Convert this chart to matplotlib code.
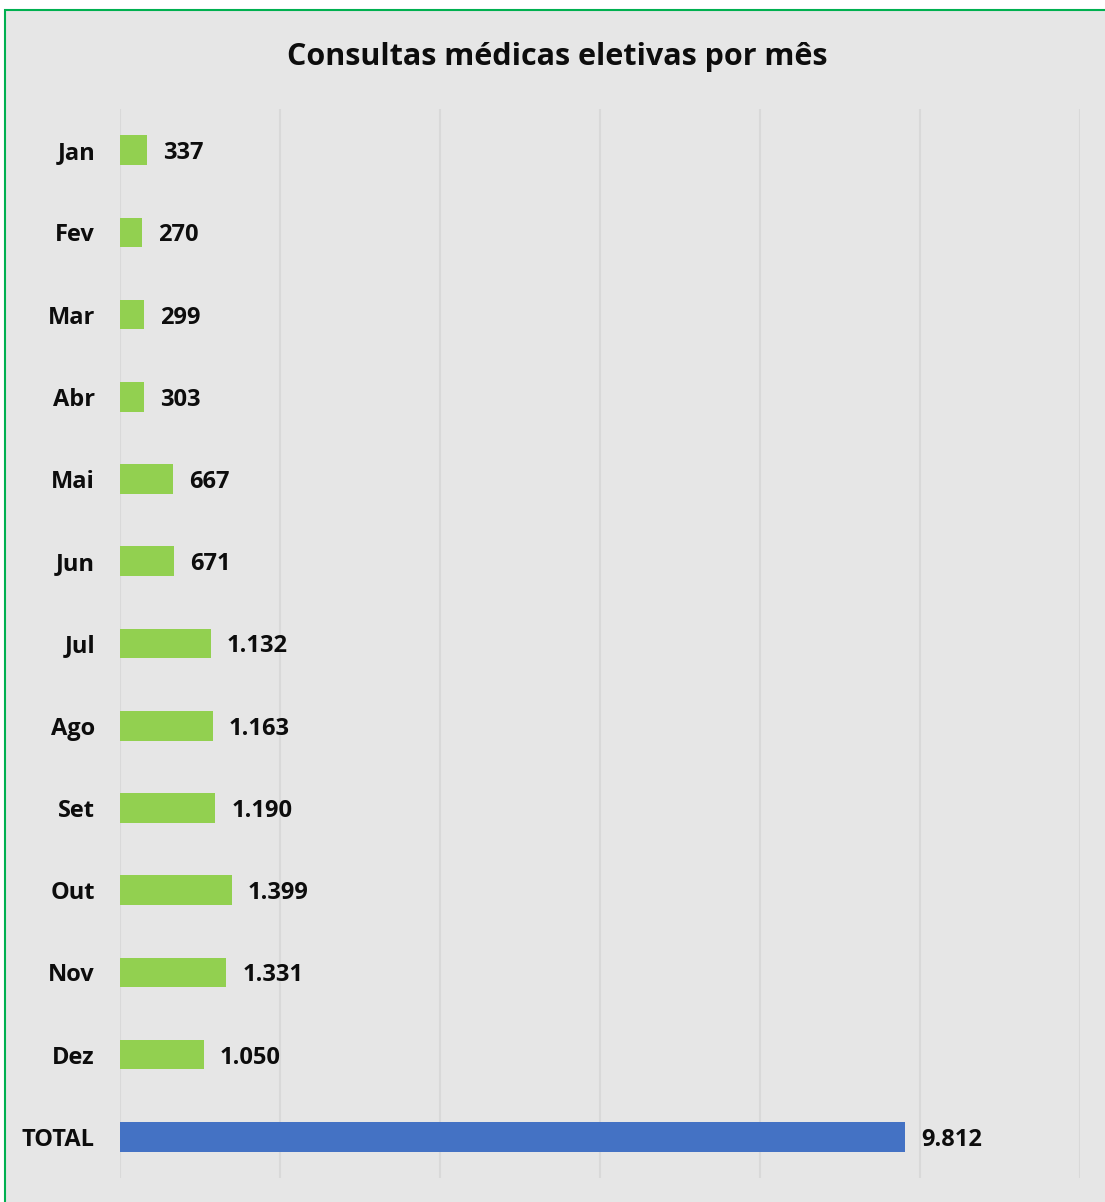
import matplotlib.pyplot as plt
from matplotlib.patches import Rectangle

months = ['Jan', 'Fev', 'Mar', 'Abr', 'Mai', 'Jun', 'Jul', 'Ago', 'Set', 'Out', 'Nov', 'Dez', 'TOTAL']
consultas = [337, 270, 299, 303, 667, 671, 1132, 1163, 1190, 1399, 1331, 1050, 9812]
bar_colors = ['#92d050'] * 12 + ['#4472c4']

W, H = 1105, 1202
fig = plt.figure(figsize=(W / 100, H / 100), dpi=100, facecolor='white')

# chart area background with green border (only top/left visible)
fig.patches.append(Rectangle((5 / W, -0.1), 1.2, 1 - 10 / H + 0.1, transform=fig.transFigure,
                             facecolor='#e6e6e6', edgecolor='#00b050', linewidth=1.5, zorder=-10))

ax = fig.add_axes([120 / W, 1 - 1178 / H, 960 / W, 1069 / H])
ax.set_facecolor('none')

ypos = list(range(len(months)))
ax.barh(ypos, consultas, height=0.36, color=bar_colors, zorder=3)

for y, v in zip(ypos, consultas):
    txt = f'{v:,}'.replace(',', '.')
    ax.annotate(txt, (v, y), xytext=(16, -3), textcoords='offset pixels',
                ha='left', va='center', fontsize=17, fontweight='bold',
                family='Open Sans', color='#0d0d0d')

ax.set_xlim(0, 12000)
ax.set_ylim(len(months) - 0.5, -0.5)
ax.set_xticks(range(0, 12001, 2000))
ax.set_xticklabels([])
ax.tick_params(axis='x', length=0)
ax.grid(axis='x', color='#d9d9d9', linewidth=1.5, zorder=0)
ax.set_yticks(ypos)
ax.set_yticklabels(months, fontsize=17, fontweight='bold', family='Open Sans', color='#0d0d0d')
ax.tick_params(axis='y', length=0, pad=18)
for s in ax.spines.values():
    s.set_visible(False)

fig.text(557 / W, 1 - 57 / H, 'Consultas médicas eletivas por mês', ha='center', va='center',
         fontsize=22, fontweight='bold', family='Open Sans', color='#0d0d0d')

fig.savefig('out.png', dpi=100, facecolor=fig.get_facecolor())
